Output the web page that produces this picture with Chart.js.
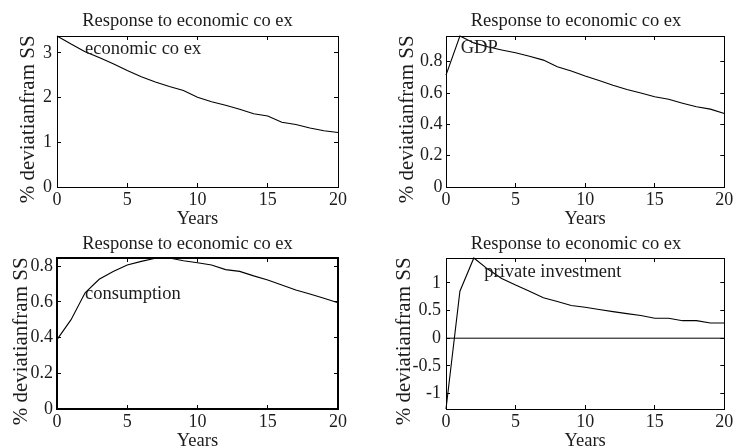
<!DOCTYPE html>
<html>
<head>
<meta charset="utf-8">
<script src="https://cdn.jsdelivr.net/npm/chart.js@4/dist/chart.umd.min.js"></script>
<style>
html,body{margin:0;padding:0;background:#fff;}
#wrap{position:relative;width:740px;height:446px;overflow:hidden;background:#fff;}
canvas{position:absolute;}
</style>
</head>
<body>
<div id="wrap">
<canvas id="c1" width="370" height="240" style="left:0;top:0"></canvas>
<canvas id="c2" width="370" height="240" style="left:370px;top:0"></canvas>
<canvas id="c3" width="370" height="223" style="left:0;top:223px"></canvas>
<canvas id="c4" width="370" height="223" style="left:370px;top:223px"></canvas>
</div>
<script>
// ---- data ----
const years = [0,1,2,3,4,5,6,7,8,9,10,11,12,13,14,15,16,17,18,19,20];
const xTickStep = 5;
const economicCoEx = [3.38,3.2,3.03,2.9,2.76,2.61,2.47,2.35,2.25,2.16,2.01,1.91,1.83,1.74,1.64,1.59,1.45,1.4,1.32,1.26,1.22];
const gdp = [0.714,0.964,0.92,0.895,0.875,0.857,0.835,0.81,0.768,0.74,0.708,0.68,0.65,0.623,0.6,0.576,0.56,0.535,0.512,0.497,0.469];
const consumption = [0.388,0.5,0.65,0.726,0.77,0.806,0.826,0.844,0.845,0.83,0.818,0.806,0.78,0.77,0.745,0.722,0.694,0.666,0.644,0.62,0.595];
const privateInvestment = [-1.28,0.85,1.45,1.25,1.08,0.96,0.85,0.73,0.665,0.59,0.56,0.52,0.48,0.445,0.41,0.36,0.36,0.317,0.317,0.275,0.275];
const titleText = 'Response to economic co ex';
const xTitleText = 'Years';
const yTitleText = '% deviatianfram SS';
const noteTexts = ['economic co ex','GDP','consumption','private investment'];

// ---- style ----
const FONT = '"Liberation Serif","Times New Roman",serif';
const TXT = '#1c1c1c';
Chart.defaults.font.family = FONT;
Chart.defaults.color = TXT;

function fmt(v){ return String(Math.round(v*100)/100); }

function makeChart(id, p){
  const W = 370, H = p.H;
  const yMin = Math.min(0, ...p.series);
  const yMax = Math.max(...p.series);
  const Lp = 0;
  const Rp = W - 2*p.tc;             // title centred between 0 and W-Rp
  const y2w = (W - Rp) - p.R;
  const yw = p.L;
  const xh = H - p.B;
  const titlePadTop = 10.4;
  const titlePadBottom = p.T - titlePadTop - 22.2;
  const tickLen = -4;
  const grid = {drawOnChartArea:false, drawTicks:true, tickLength:tickLen, color:'#000', tickWidth:1};
  const border = {display:true, color:'#000', width:p.bw};
  const points = p.series.map((v,i)=>({x:years[i], y:v}));
  const datasets = [{data:points, borderColor:'#000', borderWidth:1.1, pointRadius:0, tension:0, fill:false, clip:false}];
  if (p.zeroLine) {
    datasets.push({data:[{x:years[0],y:0},{x:years[years.length-1],y:0}], borderColor:'#000', borderWidth:1, pointRadius:0, fill:false});
  }
  const notePlugin = {
    id:'note'+id,
    afterDatasetsDraw(chart){
      const ctx = chart.ctx;
      const xs = chart.scales.x, ys = chart.scales.y;
      ctx.save();
      ctx.font = '18.5px ' + FONT;
      ctx.fillStyle = TXT;
      ctx.textAlign = 'left';
      ctx.textBaseline = 'middle';
      ctx.fillText(p.note.text, xs.getPixelForValue(p.note.x), ys.getPixelForValue(p.note.y));
      ctx.restore();
    }
  };
  return new Chart(document.getElementById(id), {
    type:'line',
    data:{datasets},
    plugins:[notePlugin],
    options:{
      responsive:false,
      animation:false,
      events:[],
      layout:{padding:{left:Lp, right:Rp, top:0, bottom:0}},
      plugins:{
        legend:{display:false},
        tooltip:{enabled:false},
        title:{display:true, text:titleText, color:TXT, font:{family:FONT, size:18.5, weight:'normal'},
               padding:{top:titlePadTop, bottom:titlePadBottom}}
      },
      scales:{
        x:{type:'linear', position:'bottom', min:years[0], max:years[years.length-1],
           afterFit:s=>{s.height = xh;},
           ticks:{stepSize:xTickStep, includeBounds:false, padding:6.7, color:TXT, font:{family:FONT, size:18}, maxRotation:0, callback:fmt},
           grid, border,
           title:{display:true, text:xTitleText, color:TXT, font:{family:FONT, size:18.5}, padding:{top:0, bottom:xh - 11.1 - 32}}},
        x2:{type:'linear', position:'top', min:years[0], max:years[years.length-1],
           afterFit:s=>{s.height = 0;},
           ticks:{display:false, stepSize:xTickStep, includeBounds:false},
           grid, border},
        y:{type:'linear', position:'left', min:yMin, max:yMax,
           afterFit:s=>{s.width = yw;},
           ticks:{stepSize:p.yStep, includeBounds:false, padding:p.ytp, color:TXT, font:{family:FONT, size:18}, callback:fmt},
           grid, border,
           title:{display:true, text:yTitleText + '   ', color:TXT, font:{family:FONT, size:21}, padding:{top:p.ymid - Lp - 12.6, bottom:0}}},
        y2:{type:'linear', position:'right', min:yMin, max:yMax,
           afterFit:s=>{s.width = y2w;},
           ticks:{display:false, stepSize:p.yStep, includeBounds:false},
           grid, border}
      }
    }
  });
}

makeChart('c1', {series:economicCoEx, H:240, yStep:1, L:57, R:338, T:36, B:187, tc:187.5, ytp:9, ymid:28.6, bw:1,
                 note:{text:noteTexts[0], x:2, y:3.08}});
makeChart('c2', {series:gdp, H:240, yStep:0.2, L:76, R:360, T:36, B:187, tc:206, ytp:7.5, ymid:37.6, bw:1,
                 note:{text:noteTexts[1], x:1.06, y:0.886}});
makeChart('c3', {series:consumption, H:223, yStep:0.2, L:57, R:338, T:35, B:186, tc:187.5, ytp:8, ymid:21.6, bw:2,
                 note:{text:noteTexts[2], x:2, y:0.64}});
makeChart('c4', {series:privateInvestment, H:223, yStep:0.5, L:76, R:360, T:35, B:186, tc:206, ytp:9, ymid:34, bw:1,
                 note:{text:noteTexts[3], x:2.75, y:1.19}, zeroLine:true});
</script>
</body>
</html>
